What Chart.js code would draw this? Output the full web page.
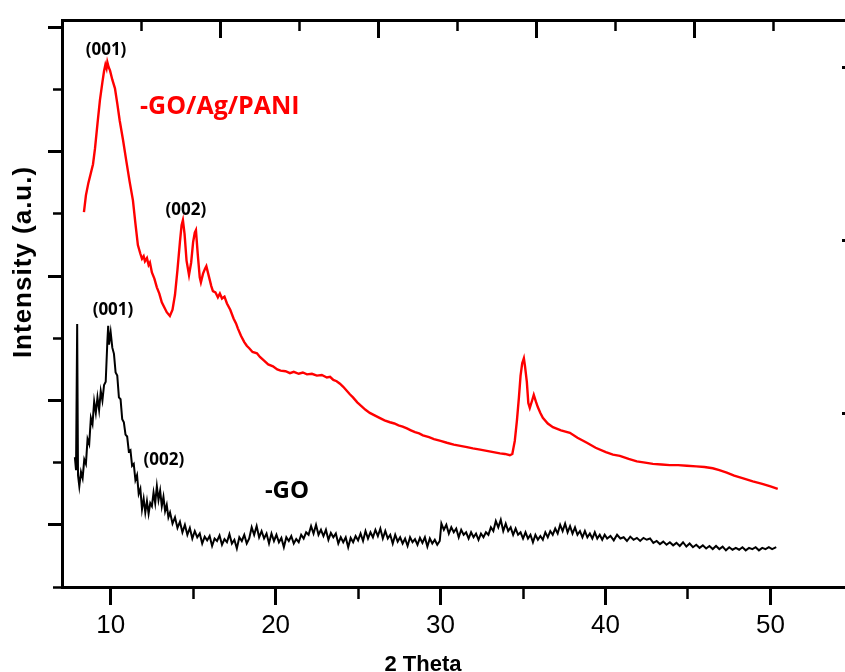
<!DOCTYPE html>
<html>
<head>
<meta charset="utf-8">
<script src="https://cdn.jsdelivr.net/npm/chart.js@4/dist/chart.umd.min.js"></script>
<style>
  html, body { margin: 0; padding: 0; background: #fff; overflow: hidden; }
  #wrap { width: 845px; height: 672px; overflow: hidden; }
</style>
</head>
<body>
<div id="wrap"><canvas id="xrd" width="870" height="672"></canvas></div>
<script>
// GO/Ag/PANI trace (2 theta, a.u.)
const paniTheta = [8.38, 8.5, 8.65, 8.8, 8.93, 9.05, 9.2, 9.35, 9.5, 9.6, 9.68, 9.75, 9.8, 9.88, 9.96,
  10.1, 10.26, 10.4, 10.55, 10.75, 10.95, 11.15, 11.35, 11.5, 11.65, 11.8, 11.9, 12.0, 12.08, 12.2,
  12.3, 12.38, 12.5, 12.65, 12.8, 12.95, 13.1, 13.25, 13.4, 13.59, 13.75, 13.9, 14.05, 14.2, 14.3,
  14.38, 14.48, 14.6, 14.75, 14.88, 15.0, 15.1, 15.17, 15.28, 15.4, 15.47, 15.6, 15.72, 15.8, 15.95,
  16.1, 16.2, 16.35, 16.5, 16.62, 16.75, 16.9, 17.05, 17.25, 17.45, 17.6, 17.71, 17.9, 18.1, 18.25,
  18.4, 18.6, 18.87, 19.05, 19.3, 19.55, 19.84, 20.1, 20.3, 20.6, 20.87, 21.1, 21.4, 21.65, 21.9,
  22.2, 22.5, 22.8, 23.11, 23.3, 23.5, 23.7, 23.9, 24.1, 24.3, 24.5, 24.69, 24.95, 25.2, 25.45,
  25.71, 26.0, 26.3, 26.6, 26.93, 27.2, 27.45, 27.7, 27.96, 28.2, 28.45, 28.7, 28.93, 29.3, 29.6,
  30.0, 30.38, 30.8, 31.2, 31.6, 31.96, 32.4, 32.8, 33.2, 33.6, 33.9, 34.2, 34.35, 34.5, 34.63,
  34.75, 34.85, 34.95, 35.05, 35.12, 35.23, 35.32, 35.41, 35.55, 35.65, 35.78, 35.9, 36.05, 36.2,
  36.5, 36.81, 37.3, 37.84, 38.3, 38.87, 39.4, 40.02, 40.45, 40.87, 41.4, 41.9, 42.4, 42.87, 43.4,
  43.9, 44.4, 44.93, 45.5, 46.0, 46.5, 46.9, 47.35, 47.8, 48.3, 48.93, 49.5, 50.0, 50.44];
const paniIntensity = [6.03, 6.30, 6.50, 6.66, 6.80, 7.05, 7.45, 7.83, 8.12, 8.30, 8.40, 8.34, 8.44, 8.36, 8.31,
  8.16, 8.02, 7.78, 7.50, 7.19, 6.85, 6.52, 6.22, 5.85, 5.50, 5.36, 5.28, 5.32, 5.24, 5.29,
  5.18, 5.22, 5.06, 4.96, 4.82, 4.72, 4.58, 4.50, 4.42, 4.36, 4.46, 4.70, 5.10, 5.55, 5.82,
  5.90, 5.68, 5.25, 5.02, 5.22, 5.55, 5.70, 5.74, 5.35, 4.98, 4.90, 5.04, 5.12, 5.16, 5.00,
  4.84, 4.76, 4.74, 4.66, 4.72, 4.64, 4.67, 4.56, 4.46, 4.32, 4.24, 4.16, 4.04, 3.94, 3.88,
  3.84, 3.78, 3.76, 3.70, 3.64, 3.58, 3.55, 3.50, 3.48, 3.47, 3.44, 3.46, 3.43, 3.45, 3.42,
  3.43, 3.40, 3.41, 3.37, 3.38, 3.33, 3.31, 3.27, 3.22, 3.16, 3.10, 3.05, 2.97, 2.91, 2.85,
  2.80, 2.76, 2.72, 2.68, 2.65, 2.63, 2.60, 2.58, 2.55, 2.52, 2.49, 2.47, 2.44, 2.41, 2.38,
  2.35, 2.32, 2.29, 2.27, 2.25, 2.23, 2.21, 2.19, 2.17, 2.15, 2.14, 2.12, 2.14, 2.35, 2.68,
  3.05, 3.40, 3.60, 3.68, 3.55, 3.30, 2.96, 2.88, 3.00, 3.09, 2.98, 2.89, 2.80, 2.72,
  2.63, 2.57, 2.52, 2.48, 2.40, 2.32, 2.24, 2.17, 2.13, 2.11, 2.06, 2.02, 2.00, 1.98, 1.97,
  1.96, 1.96, 1.95, 1.94, 1.93, 1.91, 1.88, 1.84, 1.79, 1.75, 1.70, 1.66, 1.62, 1.58];

// GO trace (2 theta, a.u.)
const goTheta = [7.83, 7.9, 7.97, 8.02, 8.1, 8.2, 8.3, 8.4, 8.5, 8.6, 8.7, 8.8, 8.9, 9.0, 9.1, 9.2, 9.3,
  9.4, 9.5, 9.6, 9.7, 9.8, 9.85, 9.9, 10.0, 10.1, 10.2, 10.3, 10.4, 10.5, 10.6, 10.7, 10.8, 10.9,
  11.0, 11.1, 11.2, 11.3, 11.4, 11.5, 11.6, 11.7, 11.8, 11.9, 12.0, 12.1, 12.2, 12.3, 12.4, 12.5,
  12.6, 12.7, 12.8, 12.9, 13.0, 13.1, 13.2, 13.3, 13.4, 13.5, 13.6, 13.75, 13.9, 14.05, 14.2, 14.35,
  14.5, 14.65, 14.8, 14.95, 15.1, 15.25, 15.4, 15.55, 15.7, 15.85, 16.0, 16.15, 16.3, 16.45, 16.6,
  16.75, 16.9, 17.05, 17.2, 17.35, 17.5, 17.65, 17.8, 17.95, 18.1, 18.25, 18.4, 18.55, 18.7, 18.85,
  19.0, 19.15, 19.3, 19.45, 19.6, 19.75, 19.9, 20.05, 20.2, 20.35, 20.5, 20.65, 20.8, 20.95, 21.1,
  21.25, 21.4, 21.55, 21.7, 21.85, 22.0, 22.15, 22.3, 22.45, 22.6, 22.75, 22.9, 23.05, 23.2, 23.35,
  23.5, 23.65, 23.8, 23.95, 24.1, 24.25, 24.4, 24.55, 24.7, 24.85, 25.0, 25.15, 25.3, 25.45, 25.6,
  25.75, 25.9, 26.05, 26.2, 26.35, 26.5, 26.65, 26.8, 26.95, 27.1, 27.25, 27.4, 27.55, 27.7, 27.85,
  28.0, 28.15, 28.3, 28.45, 28.6, 28.75, 28.9, 29.05, 29.2, 29.35, 29.5, 29.65, 29.8, 29.95, 30.05,
  30.2, 30.35, 30.5, 30.65, 30.8, 30.95, 31.1, 31.25, 31.4, 31.55, 31.7, 31.85, 32.0, 32.15, 32.3,
  32.45, 32.6, 32.75, 32.9, 33.05, 33.2, 33.35, 33.5, 33.65, 33.8, 33.95, 34.1, 34.25, 34.4, 34.55,
  34.7, 34.85, 35.0, 35.15, 35.3, 35.45, 35.6, 35.75, 35.9, 36.05, 36.2, 36.35, 36.5, 36.65, 36.8,
  36.95, 37.1, 37.25, 37.4, 37.55, 37.7, 37.85, 38.0, 38.15, 38.3, 38.45, 38.6, 38.75, 38.9, 39.05,
  39.2, 39.35, 39.5, 39.65, 39.8, 39.95, 40.1, 40.3, 40.5, 40.7, 40.9, 41.1, 41.3, 41.5, 41.7, 41.9,
  42.1, 42.3, 42.5, 42.7, 42.9, 43.1, 43.3, 43.5, 43.7, 43.9, 44.1, 44.3, 44.5, 44.7, 44.9, 45.1,
  45.3, 45.5, 45.7, 45.9, 46.1, 46.3, 46.5, 46.7, 46.9, 47.1, 47.3, 47.5, 47.7, 47.9, 48.1, 48.3,
  48.5, 48.7, 48.9, 49.1, 49.3, 49.5, 49.7, 49.9, 50.1, 50.35];
const goIntensity = [2.09, 1.88, 4.23, 1.80, 1.62, 1.85, 1.75, 2.05, 1.98, 2.38, 2.30, 2.72, 2.62, 2.98, 2.80, 3.05, 2.85,
  3.15, 3.00, 3.25, 3.30, 3.95, 4.20, 3.90, 4.10, 3.85, 3.75, 3.45, 3.40, 3.05, 3.02, 2.70, 2.65, 2.45,
  2.42, 2.18, 2.20, 1.95, 1.98, 1.72, 1.80, 1.50, 1.58, 1.25, 1.42, 1.20, 1.38, 1.18, 1.35, 1.30,
  1.52, 1.35, 1.62, 1.40, 1.55, 1.30, 1.45, 1.22, 1.32, 1.12, 1.20, 1.02, 1.12, 0.95, 1.05, 0.88,
  1.00, 0.84, 0.95, 0.78, 0.90, 0.80, 0.86, 0.70, 0.81, 0.75, 0.82, 0.66, 0.78, 0.74, 0.83,
  0.68, 0.77, 0.72, 0.85, 0.70, 0.76, 0.62, 0.80, 0.74, 0.84, 0.70, 0.78, 0.96, 0.84, 0.98,
  0.80, 0.90, 0.78, 0.86, 0.70, 0.86, 0.74, 0.84, 0.72, 0.79, 0.64, 0.80, 0.74, 0.82, 0.70,
  0.77, 0.72, 0.84, 0.78, 0.88, 0.84, 0.98, 0.86, 1.00, 0.84, 0.92, 0.82, 0.92, 0.76, 0.87,
  0.80, 0.86, 0.70, 0.80, 0.72, 0.80, 0.64, 0.79, 0.72, 0.82, 0.75, 0.86, 0.74, 0.90, 0.78,
  0.88, 0.80, 0.92, 0.82, 0.94, 0.78, 0.90, 0.78, 0.84, 0.70, 0.84, 0.73, 0.80, 0.70, 0.78,
  0.66, 0.80, 0.72, 0.77, 0.68, 0.79, 0.71, 0.80, 0.65, 0.78, 0.70, 0.76, 0.68, 0.74, 1.02,
  0.92, 1.00, 0.86, 0.96, 0.88, 0.94, 0.80, 0.92, 0.84, 0.88, 0.78, 0.88, 0.80, 0.86, 0.76,
  0.86, 0.80, 0.88, 0.84, 0.96, 0.90, 1.06, 0.96, 1.08, 0.90, 1.02, 0.90, 0.96, 0.84, 0.94,
  0.84, 0.88, 0.78, 0.88, 0.78, 0.84, 0.72, 0.84, 0.76, 0.82, 0.76, 0.88, 0.80, 0.90, 0.84,
  0.94, 0.86, 1.00, 0.90, 1.02, 0.88, 0.98, 0.86, 0.96, 0.84, 0.90, 0.80, 0.90, 0.80, 0.86,
  0.78, 0.88, 0.78, 0.84, 0.76, 0.84, 0.78, 0.82, 0.75, 0.84, 0.78, 0.80, 0.74, 0.81, 0.76, 0.79,
  0.74, 0.79, 0.76, 0.78, 0.71, 0.74, 0.69, 0.73, 0.68, 0.72, 0.67, 0.71, 0.66, 0.72, 0.65, 0.70,
  0.64, 0.68, 0.63, 0.67, 0.62, 0.66, 0.61, 0.66, 0.61, 0.65, 0.59, 0.64, 0.60, 0.63, 0.60, 0.64,
  0.59, 0.63, 0.61, 0.64, 0.59, 0.63, 0.61, 0.64, 0.61, 0.64];

// axis ticks
const thetaTicks = [10, 15, 20, 25, 30, 35, 40, 45, 50];
const leftTicks = [0, 1, 2, 3, 4, 5, 6, 7, 8, 9];
const topTicks = [0, 1, 2, 3, 4, 5, 6, 7, 8, 9];
const rightTicks = [1, 2, 3];

// peak labels
const peakLabels = [
  { text: '(001)', x: 9.72, y: 8.63, color: '#000', size: 17, align: 'center' },
  { text: '(002)', x: 14.56, y: 6.06, color: '#000', size: 17, align: 'center' },
  { text: '-GO/Ag/PANI', x: 11.78, y: 7.73, color: '#ff0000', size: 25, align: 'left' },
  { text: '(001)', x: 10.14, y: 4.45, color: '#000', size: 17, align: 'center' },
  { text: '(002)', x: 13.23, y: 2.04, color: '#000', size: 17, align: 'center' },
  { text: '-GO', x: 19.35, y: 1.54, color: '#000', size: 24, align: 'left' }
];

const pair = (xs, ys) => xs.map((x, i) => ({ x: x, y: ys[i] }));
const setTicks = list => scale => { scale.ticks = list.map(v => ({ value: v })); };

const textPlugin = {
  id: 'texts',
  afterDraw(chart) {
    const ctx = chart.ctx;
    const xs = chart.scales.x, ys = chart.scales.y;
    ctx.save();
    ctx.textBaseline = 'middle';
    peakLabels.forEach(l => {
      ctx.fillStyle = l.color;
      ctx.font = 'bold ' + l.size + "px 'Open Sans', 'Noto Sans', sans-serif";
      ctx.textAlign = l.align;
      ctx.fillText(l.text, xs.getPixelForValue(l.x), ys.getPixelForValue(l.y));
    });
    // axis titles
    ctx.fillStyle = '#000';
    ctx.font = "bold 22px 'Liberation Sans', Arial, sans-serif";
    ctx.textAlign = 'center';
    ctx.textBaseline = 'alphabetic';
    ctx.fillText('2 Theta', 423, 671);
    ctx.translate(24, 262);
    ctx.rotate(-Math.PI / 2);
    ctx.textBaseline = 'middle';
    ctx.letterSpacing = '1px';
    ctx.font = "bold 26px 'Liberation Sans', Arial, sans-serif";
    ctx.fillText('Intensity (a.u.)', 0, 0);
    ctx.restore();
  }
};

const axisBorder = { display: true, color: '#000', width: 3 };

new Chart(document.getElementById('xrd'), {
  type: 'line',
  data: {
    datasets: [
      { data: pair(paniTheta, paniIntensity), borderColor: '#ff0000', borderWidth: 2.4, pointRadius: 0, tension: 0 },
      { data: pair(goTheta, goIntensity), borderColor: '#000', borderWidth: 2, pointRadius: 0, tension: 0 }
    ]
  },
  options: {
    responsive: false,
    animation: false,
    layout: { padding: 0 },
    plugins: { legend: { display: false }, tooltip: { enabled: false } },
    scales: {
      x: {
        type: 'linear', position: 'bottom', min: 7.05, max: 54.7,
        afterBuildTicks: setTicks(thetaTicks),
        afterFit: s => { s.height = 85; },
        border: axisBorder,
        grid: {
          drawOnChartArea: false, tickLength: 18, tickColor: '#000',
          tickWidth: c => (c.tick && c.tick.value % 10 === 0 ? 3 : 2.5),
          tickBorderDash: c => (c.tick && c.tick.value % 10 === 0 ? [] : [10, 100])
        },
        ticks: {
          color: '#000', padding: 5, maxRotation: 0, autoSkip: false,
          font: { family: "'Liberation Sans Narrow', 'Liberation Sans', Arial", size: 26 },
          callback: v => (v % 10 === 0 ? String(v) : '')
        }
      },
      xTop: {
        type: 'linear', position: 'top', min: 0, max: 9.94,
        afterBuildTicks: setTicks(topTicks),
        afterFit: s => { s.height = 20; },
        border: axisBorder,
        grid: {
          drawOnChartArea: false, tickLength: -18, tickColor: '#000',
          tickWidth: c => (c.tick && c.tick.value % 2 === 0 ? 3 : 2.5),
          tickBorderDash: c => (c.tick && c.tick.value % 2 === 0 ? [] : [0, 7, 11, 100])
        },
        ticks: { display: false }
      },
      y: {
        type: 'linear', position: 'left', min: 0, max: 9.12,
        afterBuildTicks: setTicks(leftTicks),
        afterFit: s => { s.width = 62; },
        border: axisBorder,
        grid: {
          drawOnChartArea: false, tickLength: 14, tickColor: '#000',
          tickWidth: c => (c.tick && c.tick.value % 2 === 1 ? 3 : 2.5),
          tickBorderDash: c => (c.tick && c.tick.value % 2 === 1 ? [] : [0, 5, 9, 100])
        },
        ticks: { display: false }
      },
      yRight: {
        type: 'linear', position: 'right', min: 0, max: 3.277,
        afterBuildTicks: setTicks(rightTicks),
        afterFit: s => { s.width = 22; },
        border: axisBorder,
        grid: { drawOnChartArea: false, tickLength: -6, tickColor: '#000', tickWidth: 3 },
        ticks: { display: false }
      }
    }
  },
  plugins: [textPlugin]
});
</script>
</body>
</html>
